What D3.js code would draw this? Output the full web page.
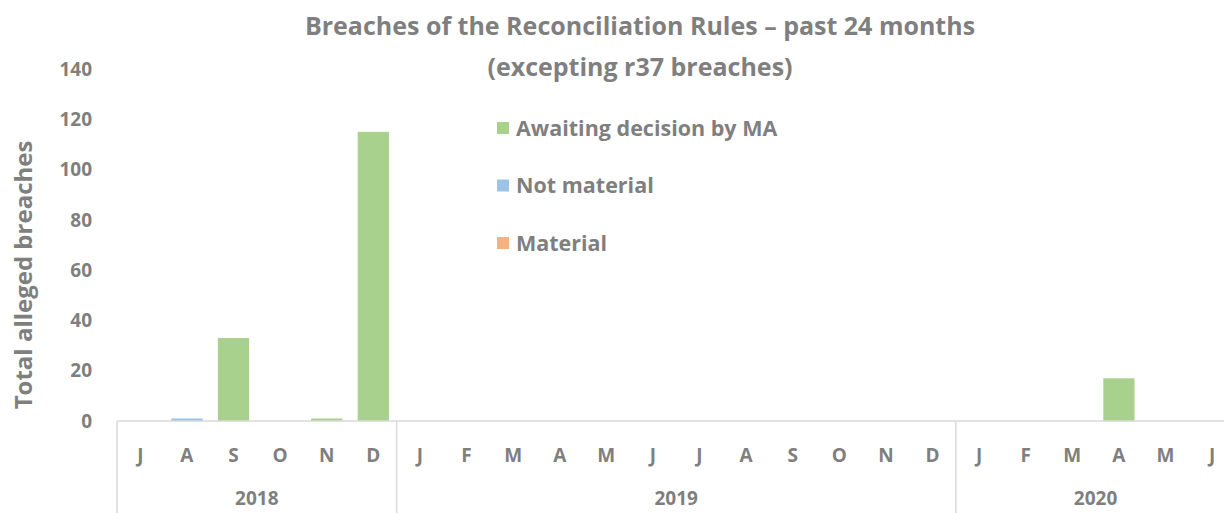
<!DOCTYPE html>
<html>
<head>
<meta charset="utf-8">
<script src="https://cdn.jsdelivr.net/npm/d3@7"></script>
<style>
  body { margin: 0; background: #fff; }
  text { font-family: "Open Sans", sans-serif; font-weight: bold; fill: #7f7f7f; }
</style>
</head>
<body>
<div id="chart"></div>
<script>
// months Jul 2018 .. Jun 2020
var months = ["J","A","S","O","N","D","J","F","M","A","M","J","J","A","S","O","N","D","J","F","M","A","M","J"];
var years = [
  { label: "2018", start: 0, end: 6 },
  { label: "2019", start: 6, end: 18 },
  { label: "2020", start: 18, end: 24 }
];
var material    = [0,0,0,0,0,0, 0,0,0,0,0,0,0,0,0,0,0,0, 0,0,0,0,0,0];
var notMaterial = [0,1,0,0,0,0, 0,0,0,0,0,0,0,0,0,0,0,0, 0,0,0,0,0,0];
var awaiting    = [0,0,33,0,1,115, 0,0,0,0,0,0,0,0,0,0,0,0, 0,0,0,17,0,0];
var yTicks = [0,20,40,60,80,100,120,140];

var seriesNames = ["Material", "Not material", "Awaiting decision by MA"];
var colors = { "Material": "#f4b183", "Not material": "#9dc3e6", "Awaiting decision by MA": "#a9d18e" };

var W = 1224, H = 513;
var margin = { left: 117, top: 69, bottom: 421 };

var svg = d3.select("#chart").append("svg")
    .attr("width", W).attr("height", H);

var table = months.map(function (m, i) {
  return { idx: i, "Material": material[i], "Not material": notMaterial[i], "Awaiting decision by MA": awaiting[i] };
});

var x = d3.scaleBand()
    .domain(d3.range(months.length))
    .range([margin.left, margin.left + 46.6 * months.length])
    .paddingInner(0.33).paddingOuter(0.165);
var step = x.step();

var y = d3.scaleLinear().domain([0, 140]).range([margin.bottom, margin.top]);

// title
var title = svg.append("text").attr("x", 640).attr("text-anchor", "middle").style("font-size", "25px");
title.append("tspan").attr("x", 640).attr("y", 35).text("Breaches of the Reconciliation Rules – past 24 months");
title.append("tspan").attr("x", 640).attr("y", 76).text("(excepting r37 breaches)");

// y tick labels
svg.append("g").selectAll("text").data(yTicks).enter().append("text")
    .attr("x", 92).attr("y", function (d) { return y(d); })
    .attr("dy", "0.35em").attr("text-anchor", "end")
    .style("font-size", "19px")
    .text(function (d) { return d; });

// y title
svg.append("text")
    .attr("transform", "translate(32," + 275 + ") rotate(-90)")
    .attr("text-anchor", "middle")
    .style("font-size", "24px")
    .text("Total alleged breaches");

// stacked bars
var stack = d3.stack().keys(seriesNames)(table);
svg.append("g").selectAll("g").data(stack).enter().append("g")
    .attr("fill", function (s) { return colors[s.key]; })
    .selectAll("rect").data(function (s) { return s; }).enter().append("rect")
    .attr("x", function (d) { return x(d.data.idx); })
    .attr("width", x.bandwidth())
    .attr("y", function (d) { return y(d[1]); })
    .attr("height", function (d) { return y(d[0]) - y(d[1]); });

// x axis line
svg.append("line")
    .attr("x1", margin.left).attr("x2", W)
    .attr("y1", margin.bottom).attr("y2", margin.bottom)
    .attr("stroke", "#d9d9d9").attr("stroke-width", 1.5);

// year dividers
svg.append("g").selectAll("line").data(years).enter().append("line")
    .attr("x1", function (d) { return margin.left + d.start * step; })
    .attr("x2", function (d) { return margin.left + d.start * step; })
    .attr("y1", margin.bottom).attr("y2", H)
    .attr("stroke", "#d9d9d9").attr("stroke-width", 1.5);

// month labels
svg.append("g").selectAll("text").data(months).enter().append("text")
    .attr("x", function (d, i) { return x(i) + x.bandwidth() / 2; })
    .attr("y", 455).attr("dy", "0.35em")
    .attr("text-anchor", "middle")
    .style("font-size", "19px")
    .text(function (d) { return d; });

// year labels
svg.append("g").selectAll("text").data(years).enter().append("text")
    .attr("x", function (d) { return margin.left + (d.start + d.end) / 2 * step; })
    .attr("y", 505)
    .attr("text-anchor", "middle")
    .style("font-size", "19px")
    .text(function (d) { return d.label; });

// legend
var legendItems = ["Awaiting decision by MA", "Not material", "Material"];
var lg = svg.append("g").selectAll("g").data(legendItems).enter().append("g")
    .attr("transform", function (d, i) { return "translate(497," + (128 + i * 57.5) + ")"; });
lg.append("rect").attr("x", 0).attr("y", -6).attr("width", 12).attr("height", 12)
    .attr("fill", function (d) { return colors[d]; });
lg.append("text").attr("x", 19).attr("y", 0).attr("dy", "0.35em")
    .style("font-size", "21.5px")
    .text(function (d) { return d; });
</script>
</body>
</html>
